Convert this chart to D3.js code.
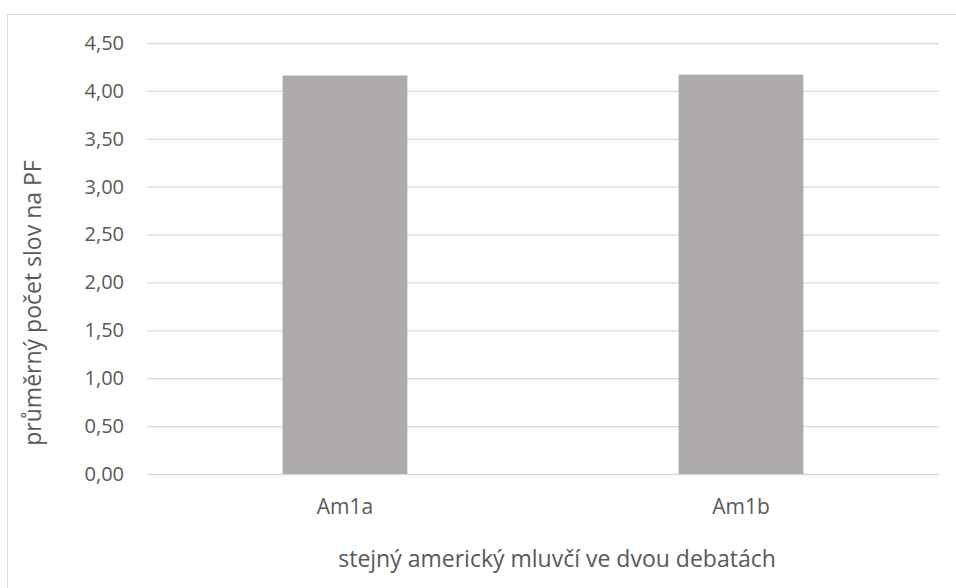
<!DOCTYPE html>
<html>
<head>
<meta charset="utf-8">
<script src="https://cdn.jsdelivr.net/npm/d3@7"></script>
<style>
	body { margin: 0; background: #fff; }
	svg text { font-family: 'Open Sans', sans-serif; fill: #595959; }
</style>
</head>
<body>
<script>
const categories = ['Am1a', 'Am1b']
const values = [4.16, 4.17]
const yTicks = [0, 0.5, 1, 1.5, 2, 2.5, 3, 3.5, 4, 4.5]
const xTitle = 'stejný americký mluvčí ve dvou debatách'
const yTitle = 'průměrný počet slov na PF'

const W = 956, H = 588
const m = { left: 147, right: 17, top: 43, bottom: 114 }

const svg = d3.select('body').append('svg')
	.attr('width', W)
	.attr('height', H)

// chart frame
svg.append('path')
	.attr('d', `M7.5,${H + 5}V14.5H${W + 5}`)
	.attr('fill', 'none')
	.attr('stroke', '#d9d9d9')

const x = d3.scaleBand()
	.domain(categories)
	.range([m.left, W - m.right])
	.paddingInner(.685)
	.paddingOuter(.685 / 2)

const y = d3.scaleLinear()
	.domain([0, 4.5])
	.range([H - m.bottom, m.top])

const fmt = d => d3.format('.2f')(d).replace('.', ',')

// gridlines
svg.append('g')
	.attr('class', 'grid')
	.attr('transform', `translate(${m.left},0)`)
	.call(d3.axisLeft(y).tickValues(yTicks).tickSize(-(W - m.left - m.right)).tickFormat(''))
	.call(g => g.select('.domain').remove())
	.call(g => g.selectAll('line').attr('stroke', '#d9d9d9').attr('stroke-width', 1.3))

// y tick labels
svg.append('g')
	.attr('transform', `translate(${m.left - 23},0)`)
	.call(d3.axisLeft(y).tickValues(yTicks).tickSize(0).tickFormat(fmt))
	.call(g => g.select('.domain').remove())
	.call(g => g.selectAll('text').attr('x', 0).style('font-size', '20px').style('fill', '#595959'))

svg.append('g')
	.selectAll('rect')
	.data(values)
	.join('rect')
	.attr('x', (d, i) => x(categories[i]))
	.attr('width', x.bandwidth())
	.attr('y', d => y(d))
	.attr('height', d => y(0) - y(d))
	.attr('fill', '#aeaaaa')

// category labels
svg.append('g')
	.attr('transform', `translate(0,${H - m.bottom})`)
	.call(d3.axisBottom(x).tickSize(0))
	.call(g => g.select('.domain').remove())
	.call(g => g.selectAll('text').attr('dy', 0).attr('y', 40).style('font-size', '21px').style('fill', '#595959'))

svg.append('text')
	.attr('x', 557)
	.attr('y', 567)
	.attr('text-anchor', 'middle')
	.style('font-size', '23px')
	.text(xTitle)

svg.append('text')
	.attr('transform', `translate(41,303) rotate(-90)`)
	.attr('text-anchor', 'middle')
	.style('font-size', '23px')
	.text(yTitle)
</script>
</body>
</html>
